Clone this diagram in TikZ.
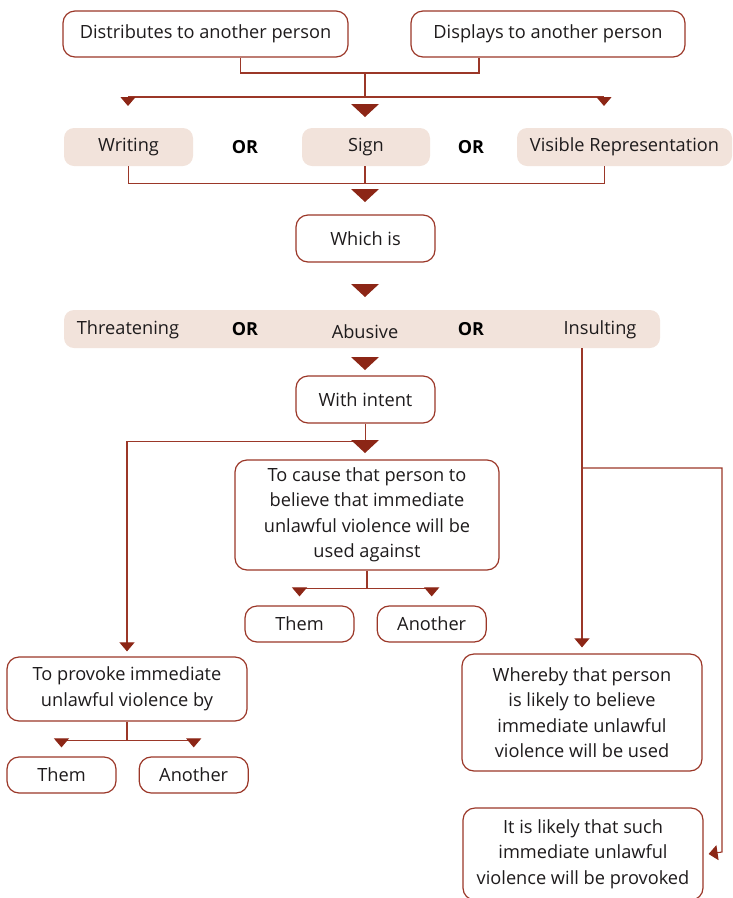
\documentclass[tikz,border=0pt]{standalone}
\usepackage{fontspec}
\setmainfont{Open Sans}
\usetikzlibrary{positioning,arrows.meta}
\definecolor{boxred}{RGB}{155,55,40}
\definecolor{tipred}{RGB}{140,38,22}
\definecolor{beige}{RGB}{242,227,219}
\definecolor{ink}{RGB}{30,27,28}

\begin{document}
\begin{tikzpicture}[x=1pt,y=-1pt,
	font=\fontsize{18.2}{25.5}\selectfont,
	box/.style={draw=boxred,line width=1.2pt,fill=white,rounded corners=12pt,align=center,text=ink,inner sep=0pt},
	tag/.style={fill=beige,rounded corners=10pt,minimum height=38pt,text=ink,inner sep=0pt},
	lbl/.style={text=ink,inner sep=0pt},
	orword/.style={text=black,font=\fontsize{18}{25}\selectfont\bfseries,inner sep=0pt},
	link/.style={draw=boxred,line width=1.1pt},
	tip/.style={-{Triangle[length=9pt,width=15pt,color=tipred]}},
	pics/bigtri/.style={code={\fill[tipred] (-14,0) -- (14,0) -- (0,13) -- cycle;}}]
	\useasboundingbox (0,0) rectangle (732,898);
	%% who
	\node[box,minimum width=285pt,minimum height=46pt] (dist) at (205.5,34) {Distributes to another person};
	\node[box,minimum width=274pt,minimum height=46pt] (disp) at (548,34) {Displays to another person};
	\coordinate (j1) at (365,73);
	\coordinate (h1l) at (128,97);
	\coordinate (h1r) at (604,97);
	\draw[link] ([xshift=35]dist.south) |- (j1) -| ([xshift=-69]disp.south);
	\draw[link] (j1) -- (j1 |- h1l);
	\draw[link] (h1l) -- (h1r);
	\draw[link,tip] (h1l) -- ++(0,9);
	\draw[link,tip] (h1r) -- ++(0,9);
	\pic at (365,104) {bigtri};
	%% what
	\node[tag,minimum width=129pt] (writ) at (128.5,147) {Writing};
	\node[tag,minimum width=128pt] (sign) at (366,147) {Sign};
	\node[tag,minimum width=215pt] (vis) at (624.5,147) {Visible Representation};
	\node[orword] (or1) at (245,147) {OR};
	\node[orword] (or2) at (471,147) {OR};
	\draw[link] (writ.south) -- ++(0,17) -| ([xshift=-20]vis.south);
	\draw[link] ([xshift=-1]sign.south) -- ++(0,17);
	\pic at (365,189) {bigtri};
	\node[box,minimum width=139pt,minimum height=47pt] (which) at (365.5,238.5) {Which is};
	\pic at (365,284) {bigtri};
	%% how
	\node[tag,minimum width=596pt] (kinds) at (362,329) {};
	\node[lbl] (threat) at (128,330) {Threatening};
	\node[orword] (or3) at (245,329) {OR};
	\node[lbl] (abuse) at (365,332) {Abusive};
	\node[orword] (or4) at (471,329) {OR};
	\node[lbl] (insult) at (600,330) {Insulting};
	\pic at (365,357) {bigtri};
	\node[box,minimum width=139pt,minimum height=47pt] (intent) at (365.5,399.5) {With intent};
	%% intent branches
	\node[box,minimum width=264pt,minimum height=110pt] (cause) at (367,515)
		{To cause that person to\\believe that immediate\\unlawful violence will be\\used against};
	\node[box,minimum width=240pt,minimum height=64pt] (provoke) at (127,689)
		{To provoke immediate\\unlawful violence by};
	\draw[link,tip] (intent.south) -- ++(0,18) -| ([yshift=5]provoke.north);
	\pic at (365,440) {bigtri};
	\node[box,minimum width=109pt,minimum height=36pt] (them1) at (299.5,624) {Them};
	\node[box,minimum width=109pt,minimum height=36pt,right=22pt of them1] (anoth1) {Another};
	\draw[link] (cause.south) -- ++(0,18) coordinate (j3);
	\draw[link,tip] (j3) -| ([yshift=9]them1.north);
	\draw[link,tip] (j3) -| ([yshift=9]anoth1.north);
	\node[box,minimum width=109pt,minimum height=36pt] (them2) at (61.5,775) {Them};
	\node[box,minimum width=109pt,minimum height=36pt,right=22pt of them2] (anoth2) {Another};
	\draw[link] (provoke.south) -- ++(0,19) coordinate (j4);
	\draw[link,tip] (j4) -| ([yshift=9]them2.north);
	\draw[link,tip] (j4) -| ([yshift=9]anoth2.north);
	%% insulting branch
	\node[box,minimum width=240pt,minimum height=117pt] (whereby) at (582,712.5)
		{Whereby that person\\is likely to believe\\immediate unlawful\\violence will be used};
	\node[box,minimum width=240pt,minimum height=92pt] (likely) at (583,854)
		{It is likely that such\\immediate unlawful\\violence will be provoked};
	\coordinate (split) at (583,468);
	\draw[link,tip] (whereby.north |- kinds.south) -- ([yshift=6]whereby.north);
	\draw[link,tip] (split) -| (722,852) -- ([xshift=5]likely.east);
\end{tikzpicture}
\end{document}
